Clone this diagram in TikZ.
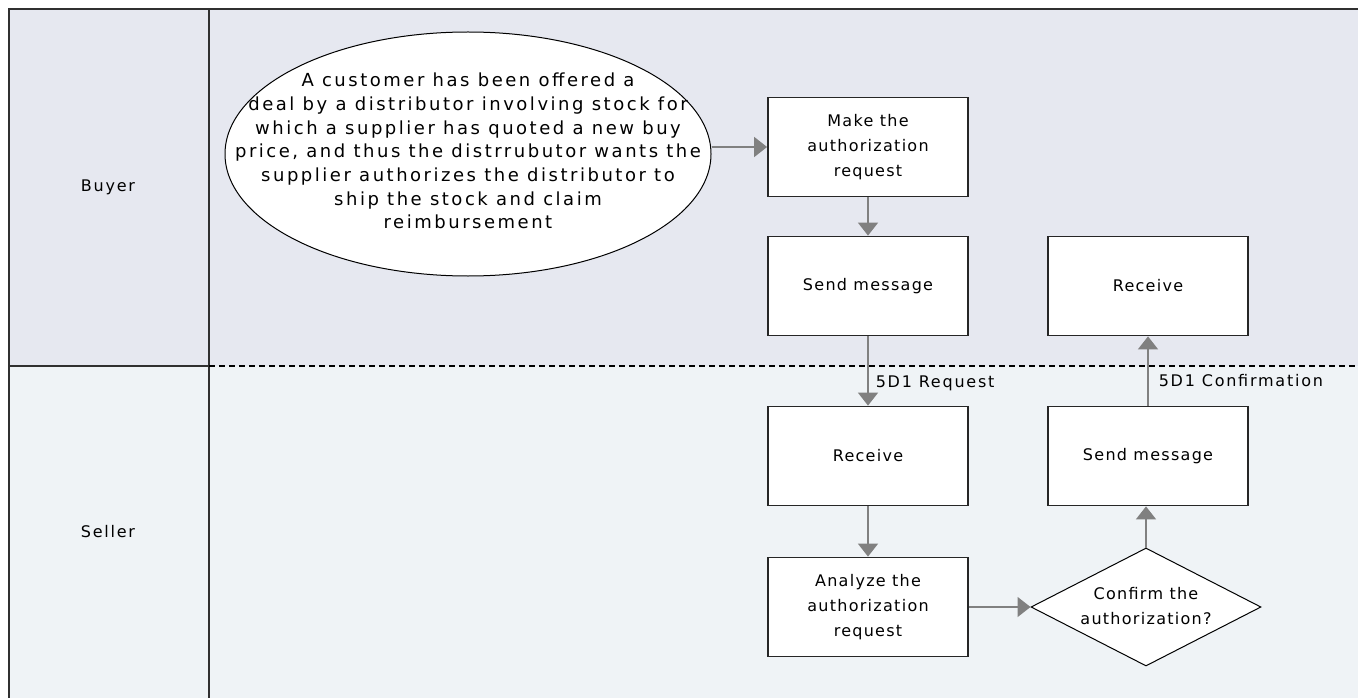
\documentclass[tikz,border=0pt]{standalone}
\usepackage{fontspec}
\usetikzlibrary{shapes.geometric,arrows.meta}
\newfontfamily\boxfont{DejaVu Sans}[LetterSpace=8]
\newfontfamily\ellfont{DejaVu Sans}[LetterSpace=14]
\newfontfamily\lblfont{DejaVu Sans}[LetterSpace=11]
\definecolor{topfill}{HTML}{E6E8F0}
\definecolor{botfill}{HTML}{EFF3F6}
\definecolor{arrgray}{HTML}{808080}
\definecolor{framec}{HTML}{303030}
\tikzset{
  frame/.style={draw=framec, line width=2pt},
  stepbox/.style={draw=black!85, line width=1.8pt, fill=white, minimum width=200pt, minimum height=99pt, align=center, font=\boxfont\fontsize{16}{25}\selectfont, inner sep=0pt},
  arr/.style={draw=arrgray, line width=1.6pt, -{Triangle[length=13pt,width=20pt]}},
  lbl/.style={font=\lblfont\fontsize{16}{20}\selectfont, inner sep=0pt},
}
\begin{document}
\begin{tikzpicture}[x=1pt,y=-1pt]
\useasboundingbox (0,0) rectangle (1358,698);
% lanes
\fill[topfill] (9,9) rectangle (1358,366);
\fill[botfill] (9,366) rectangle (1358,698);
\draw[frame] (1358,9) -- (9,9) -- (9,698);
\draw[frame] (209,9) -- (209,698);
\draw[frame] (9,366) -- (209,366);
\draw[black, line width=1.2pt, dash pattern=on 6pt off 4pt] (209,366) -- (1358,366);
\node[lbl] (buyer) at (108,187) {Buyer};
\node[lbl] (seller) at (108,532) {Seller};
% ellipse
\node[ellipse, draw=black, line width=1pt, fill=white, minimum width=486pt, minimum height=244pt, inner sep=0pt] (ell) at (468,154) {};
\node[align=center, font=\ellfont\fontsize{18}{23.7}\selectfont, inner sep=0pt] (elltext) at (468,151) {A customer has been offered a\\deal by a distributor involving stock for\\which a supplier has quoted a new buy\\price, and thus the distrrubutor wants the\\supplier authorizes the distributor to\\ship the stock and claim\\reimbursement};
% boxes
\node[stepbox] (make) at (868,147) {Make the\\authorization\\request};
\node[stepbox] (send1) at (868,286) {Send message};
\node[stepbox] (recv1) at (1148,286) {Receive};
\node[stepbox] (recv2) at (868,456) {Receive};
\node[stepbox] (send2) at (1148,456) {Send message};
\node[stepbox] (analyze) at (868,607) {Analyze the\\authorization\\request};
\node[diamond, draw=black, line width=1pt, fill=white, aspect=1.95, minimum width=230pt, minimum height=118pt, inner sep=0pt] (dia) at (1146,607) {};
\node[align=center, font=\boxfont\fontsize{16}{25}\selectfont, inner sep=0pt] (diatext) at (1146,606) {Confirm the\\authorization?};
% arrows
\draw[arr] (ell.east |- make.west) -- (make.west);
\draw[arr] (make.south) -- (send1.north);
\draw[arr] (send1.south) -- node[lbl, anchor=west, pos=0.68, xshift=7pt] (reqlbl) {5D1 Request} (recv2.north);
\draw[arr] (recv2.south) -- (analyze.north);
\draw[arr] (analyze.east) -- (dia.west);
\draw[arr] (dia.north) -- (dia.north |- send2.south);
\draw[arr] (send2.north) -- node[lbl, anchor=west, pos=0.36, xshift=10pt] (conflbl) {5D1 Confirmation} (recv1.south);
\end{tikzpicture}
\end{document}
